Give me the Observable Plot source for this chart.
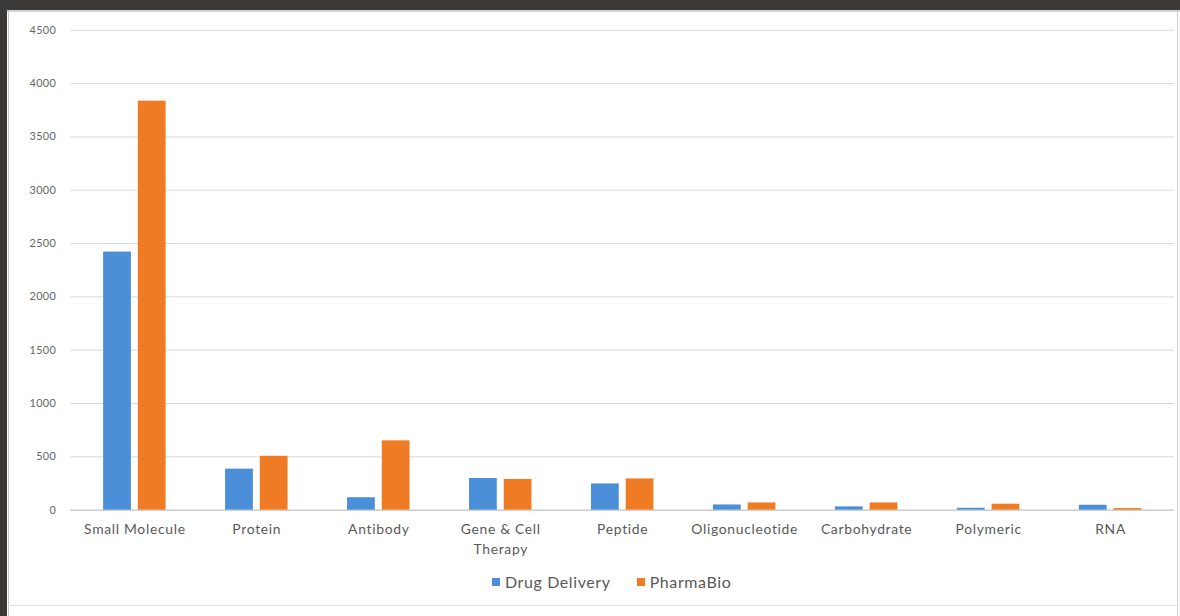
<!DOCTYPE html>
<html>
<head>
<meta charset="utf-8">
<script src="https://cdn.jsdelivr.net/npm/d3@7"></script>
<script src="https://cdn.jsdelivr.net/npm/@observablehq/plot@0.6"></script>
<style>
  html, body { margin: 0; padding: 0; background: #ffffff; overflow: hidden; width: 1180px; height: 616px; }
  #wrap { position: relative; width: 1180px; height: 616px; overflow: hidden; font-family: Lato, "Open Sans", sans-serif; }
  #chart { position: absolute; left: 0; top: 0; z-index: 1; }
  #chart svg { overflow: visible; }
  #chart svg g[aria-label="x-axis tick label"] text { letter-spacing: 0.7px; }
  #chart svg g[aria-label="y-axis tick label"] text { letter-spacing: 0.3px; }
  .band { position: absolute; background: #3b3937; z-index: 3; }
  .line { position: absolute; z-index: 3; }
  #legend { position: absolute; left: 492px; top: 572px; z-index: 2; display: flex; align-items: center; font-size: 16px; letter-spacing: 0.6px; color: #595959; }
  #legend .sw { width: 8px; height: 8px; display: inline-block; margin-right: 5px; }
  #legend .item { display: flex; align-items: center; margin-right: 26px; }
</style>
</head>
<body>
<div id="wrap">
  <div class="band" style="left:0;top:0;width:1180px;height:10px;"></div>
  <div class="band" style="left:0;top:0;width:7px;height:616px;"></div>
  <div class="line" style="left:7px;top:10px;width:1173px;height:2px;background:#d4d4d4;"></div>
  <div class="line" style="left:8px;top:10px;width:1px;height:606px;background:#c9c9c9;"></div>
  <div class="line" style="left:1177px;top:10px;width:1px;height:606px;background:#d0d0d0;"></div>
  <div class="line" style="left:8px;top:605px;width:1170px;height:1px;background:#e2e2e2;"></div>
  <div id="chart"></div>
  <div id="legend"></div>
</div>
<script>
const categories = ["Small Molecule", "Protein", "Antibody", "Gene & Cell Therapy", "Peptide", "Oligonucleotide", "Carbohydrate", "Polymeric", "RNA"];
const tickLabels = ["Small Molecule", "Protein", "Antibody", "Gene & Cell\nTherapy", "Peptide", "Oligonucleotide", "Carbohydrate", "Polymeric", "RNA"];
const drugDelivery = [2420, 385, 117, 297, 246, 49, 31, 18, 46];
const pharmaBio = [3835, 505, 650, 288, 293, 68, 68, 56, 15];
const seriesNames = ["Drug Delivery", "PharmaBio"];
const seriesColors = ["#4a8fd8", "#ef7b25"];
const yTicks = [0, 500, 1000, 1500, 2000, 2500, 3000, 3500, 4000, 4500];

const rows = categories.flatMap((c, i) => [
  {category: c, series: seriesNames[0], value: drugDelivery[i]},
  {category: c, series: seriesNames[1], value: pharmaBio[i]}
]);
const labelOf = new Map(categories.map((c, i) => [c, tickLabels[i]]));

const chart = Plot.plot({
  width: 1190,
  height: 580,
  marginLeft: 71,
  marginRight: 6,
  marginTop: 30,
  marginBottom: 66,
  style: {fontFamily: "Lato, 'Open Sans', sans-serif", background: "transparent", color: "#595959"},
  x: {domain: categories, paddingInner: 0.49, paddingOuter: 0.245},
  y: {domain: [0, 4500]},
  color: {domain: seriesNames, range: seriesColors},
  marks: [
    Plot.ruleY(yTicks, {stroke: "#d9d9d9", strokeWidth: 1}),
    Plot.ruleY([0], {stroke: "#c4c4c4", strokeWidth: 1}),
    Plot.barY(rows.filter(d => d.series === seriesNames[0]), {x: "category", y: "value", fill: "series", insetRight: 35}),
    Plot.barY(rows.filter(d => d.series === seriesNames[1]), {x: "category", y: "value", fill: "series", insetLeft: 35}),
    Plot.axisY({ticks: yTicks, tickSize: 0, tickPadding: 15, fontSize: 11, fill: "#666666", label: null, tickFormat: d => String(d)}),
    Plot.axisX({tickSize: 0, tickPadding: 10, fontSize: 14, fill: "#595959", label: null, lineHeight: 1.45, tickFormat: d => labelOf.get(d)})
  ]
});
document.getElementById("chart").appendChild(chart);

const legend = document.getElementById("legend");
seriesNames.forEach((name, i) => {
  const item = document.createElement("span");
  item.className = "item";
  const sw = document.createElement("span");
  sw.className = "sw";
  sw.style.background = seriesColors[i];
  const label = document.createElement("span");
  label.textContent = name;
  item.appendChild(sw);
  item.appendChild(label);
  legend.appendChild(item);
});
</script>
</body>
</html>
